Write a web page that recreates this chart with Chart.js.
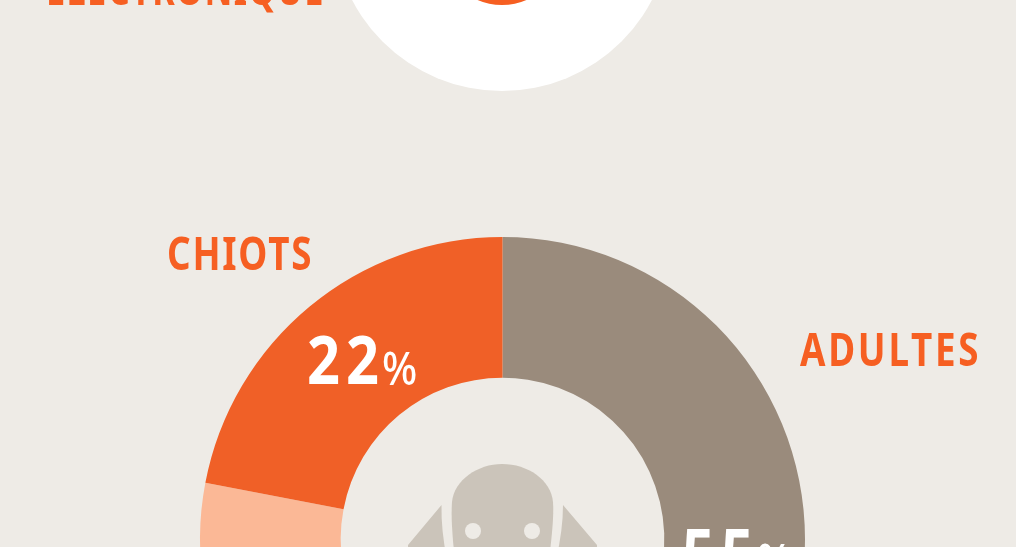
<!DOCTYPE html>
<html><head><meta charset="utf-8">
<style>
html,body{margin:0;padding:0;width:1016px;height:547px;overflow:hidden;background:#EEEBE6}
#w{position:absolute;left:0;top:0;width:1016px;height:900px}
</style>
<script src="https://cdn.jsdelivr.net/npm/chart.js@4"></script>
</head><body>
<div id="w"><canvas id="c" width="1016" height="900"></canvas></div>
<script>
const categories = ["ADULTES", "(non visible)", "CHIOTS"];
const values = [55, 23, 22];
const sliceColors = ["#9A8B7C", "#FBB896", "#F06027"];
const topLabel = "ELECTRONIQUE";
const FONT = '"Noto Sans", sans-serif';

function squeezed(ctx, text, x, baseline, size, sx, spacing, color, weight){
  ctx.save();
  ctx.font = (weight || 'bold') + ' ' + size + 'px ' + FONT;
  ctx.letterSpacing = spacing + 'px';
  ctx.fillStyle = color;
  ctx.textAlign = 'left';
  ctx.textBaseline = 'alphabetic';
  ctx.translate(x, baseline);
  ctx.scale(sx, 1);
  ctx.fillText(text, 0, 0);
  ctx.restore();
}
const backdrop = {
  id:'backdrop',
  beforeDatasetsDraw(chart){
    const ctx = chart.ctx;
    ctx.save();
    ctx.fillStyle = '#FFFFFF';
    ctx.beginPath(); ctx.arc(502,-78,169,0,Math.PI*2); ctx.fill();
    ctx.strokeStyle = '#F65F22'; ctx.lineWidth = 14;
    ctx.beginPath(); ctx.arc(502,-55,53,0,Math.PI*2); ctx.stroke();
    ctx.restore();
  },
  afterDatasetsDraw(chart){
    const ctx = chart.ctx;
    const c = '#CBC4BA', bg = '#EEEBE6';
    ctx.save();
    ctx.fillStyle = c;
    ctx.beginPath(); ctx.moveTo(441.5,505); ctx.lineTo(408,545); ctx.lineTo(408,560); ctx.lineTo(447,560); ctx.quadraticCurveTo(441,530,441.5,505); ctx.fill();
    ctx.beginPath(); ctx.moveTo(563,505); ctx.lineTo(597,545); ctx.lineTo(597,560); ctx.lineTo(556,560); ctx.quadraticCurveTo(563,530,563,505); ctx.fill();
    ctx.beginPath(); ctx.moveTo(455,560);
    ctx.bezierCurveTo(452,535,451,515,452,502);
    ctx.bezierCurveTo(454,480,478,464,502,464);
    ctx.bezierCurveTo(528,464,551,480,553,502);
    ctx.bezierCurveTo(554,515,552,535,549,560);
    ctx.closePath(); ctx.fill();
    ctx.fillStyle = bg;
    ctx.beginPath(); ctx.arc(473,531,8,0,Math.PI*2); ctx.fill();
    ctx.beginPath(); ctx.arc(532,531,8,0,Math.PI*2); ctx.fill();
    ctx.restore();
    const orange = '#F65F22';
    squeezed(ctx, topLabel, 46, 5, 46, 0.745, 1.85, orange);
    squeezed(ctx, categories[2], 167, 269.5, 46, 0.8, 2.2, orange);
    squeezed(ctx, categories[0], 800, 366, 46, 0.8, 3.4, orange);
    squeezed(ctx, values[2]+'', 307, 384, 67, 0.86, 7, '#FFFFFF');
    squeezed(ctx, '%', 382, 385, 46, 0.9, 0, '#FFFFFF', '500');
    squeezed(ctx, values[0]+'', 682, 577, 67, 0.86, 7, '#FFFFFF');
    squeezed(ctx, '%', 757, 577, 46, 0.9, 0, '#FFFFFF', '500');
  }
};
new Chart(document.getElementById('c'), {
  type:'doughnut',
  data:{labels:categories, datasets:[{data:values, backgroundColor:sliceColors, borderWidth:0}]},
  options:{
    responsive:false, animation:false, cutout:'53.5%', rotation:0,
    layout:{padding:{left:200,right:211,top:237,bottom:58}},
    plugins:{legend:{display:false},tooltip:{enabled:false},title:{display:false}}
  },
  plugins:[backdrop]
});
</script>
</body></html>
